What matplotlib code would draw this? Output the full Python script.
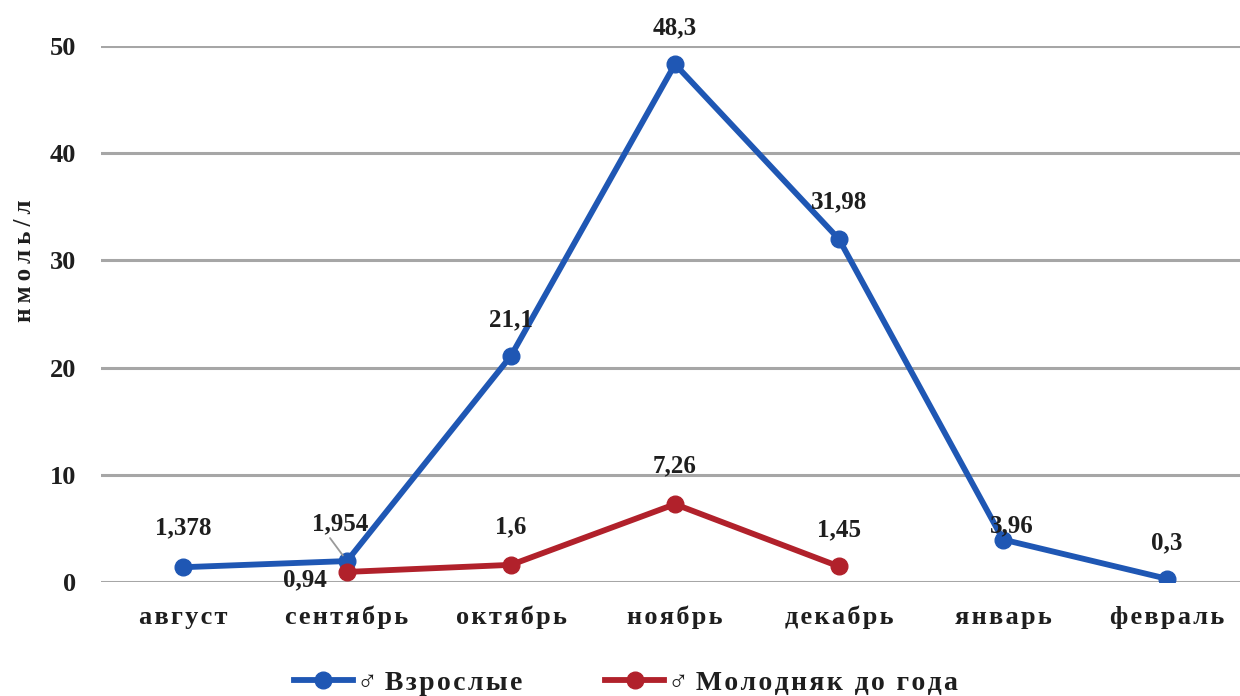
import matplotlib.pyplot as plt
import numpy as np

months = ["август", "сентябрь", "октябрь", "ноябрь", "декабрь", "январь", "февраль"]
adults = [1.378, 1.954, 21.1, 48.3, 31.98, 3.96, 0.3]
young = [np.nan, 0.94, 1.6, 7.26, 1.45, np.nan, np.nan]
adult_labels = ["1,378", "1,954", "21,1", "48,3", "31,98", "3,96", "0,3"]
young_labels = [None, "0,94", "1,6", "7,26", "1,45", None, None]
yticks = [0, 10, 20, 30, 40, 50]

BLUE = "#1f57b4"
RED = "#b1212b"
INK = "#1e1e1e"
FONT = ["Liberation Serif", "DejaVu Serif", "DejaVu Sans"]

plt.rcParams["font.family"] = FONT
plt.rcParams["font.weight"] = "bold"


def spaced(s, gap="\u200a"):
    # widen the lettering a bit
    return gap.join(s)


fig = plt.figure(figsize=(12.4, 6.96), dpi=100)
ax = fig.add_axes([101 / 1240, 114 / 696, 1148 / 1240, 536 / 696])

x = np.arange(len(months))
ax.plot(x, adults, color=BLUE, lw=4.2, marker="o", ms=12,
        label="\u2642 " + spaced("Взрослые"))
ax.plot(x, young, color=RED, lw=4.2, marker="o", ms=12,
        label="\u2642 " + spaced("Молодняк до года"))

ax.set_xlim(-0.5, len(months) - 0.5)
ax.set_ylim(0, 50)
ax.set_yticks(yticks)
ax.set_yticklabels([str(t) for t in yticks], fontsize=19, fontweight="bold")
ax.set_xticks(x)
ax.set_xticklabels([spaced(m) for m in months], fontsize=19, fontweight="bold")
ax.tick_params(axis="both", length=0, colors=INK)
ax.tick_params(axis="y", pad=18)
ax.tick_params(axis="x", pad=17)
ax.grid(axis="y", color="#a6a6a6", lw=2.2)
ax.set_axisbelow(True)
for s in ax.spines.values():
    s.set_visible(False)
ax.set_ylabel(spaced("нмоль/л", "\u2009"), fontsize=18, fontweight="bold", color=INK)
ax.yaxis.set_label_coords(-0.057, 0.6)

# label offsets in pixels (dx, dy up)
adult_off = [(0, 39), (-7, 37), (0, 36), (0, 36), (0, 37), (9, 14), (0, 36)]
young_off = [None, (-42, -8), (0, 38), (0, 38), (0, 37), None, None]

for i, (v, t, o) in enumerate(zip(adults, adult_labels, adult_off)):
    ax.annotate(t, (x[i], v), xytext=(o[0] * 0.72, o[1] * 0.72),
                textcoords="offset points", ha="center", va="center",
                fontsize=18, fontweight="bold", color=INK)

# leader line for the shifted 1,954 label
ax.annotate("", (x[1], adults[1]), xytext=(-17 * 0.72, 23 * 0.72),
            textcoords="offset points",
            arrowprops=dict(arrowstyle="-", color="#9a9a9a", lw=1.3,
                            shrinkA=0, shrinkB=5))

for i, (v, t, o) in enumerate(zip(young, young_labels, young_off)):
    if t is None:
        continue
    ax.annotate(t, (x[i], v), xytext=(o[0] * 0.72, o[1] * 0.72),
                textcoords="offset points", ha="center", va="center",
                fontsize=18, fontweight="bold", color=INK)

fig.legend(loc="center", bbox_to_anchor=(626 / 1240, 1 - 683 / 696), ncol=2,
           frameon=False, fontsize=20, handlelength=2.1, handletextpad=0.15,
           columnspacing=3.0, labelcolor=INK)

fig.savefig("out.png", dpi=100)
